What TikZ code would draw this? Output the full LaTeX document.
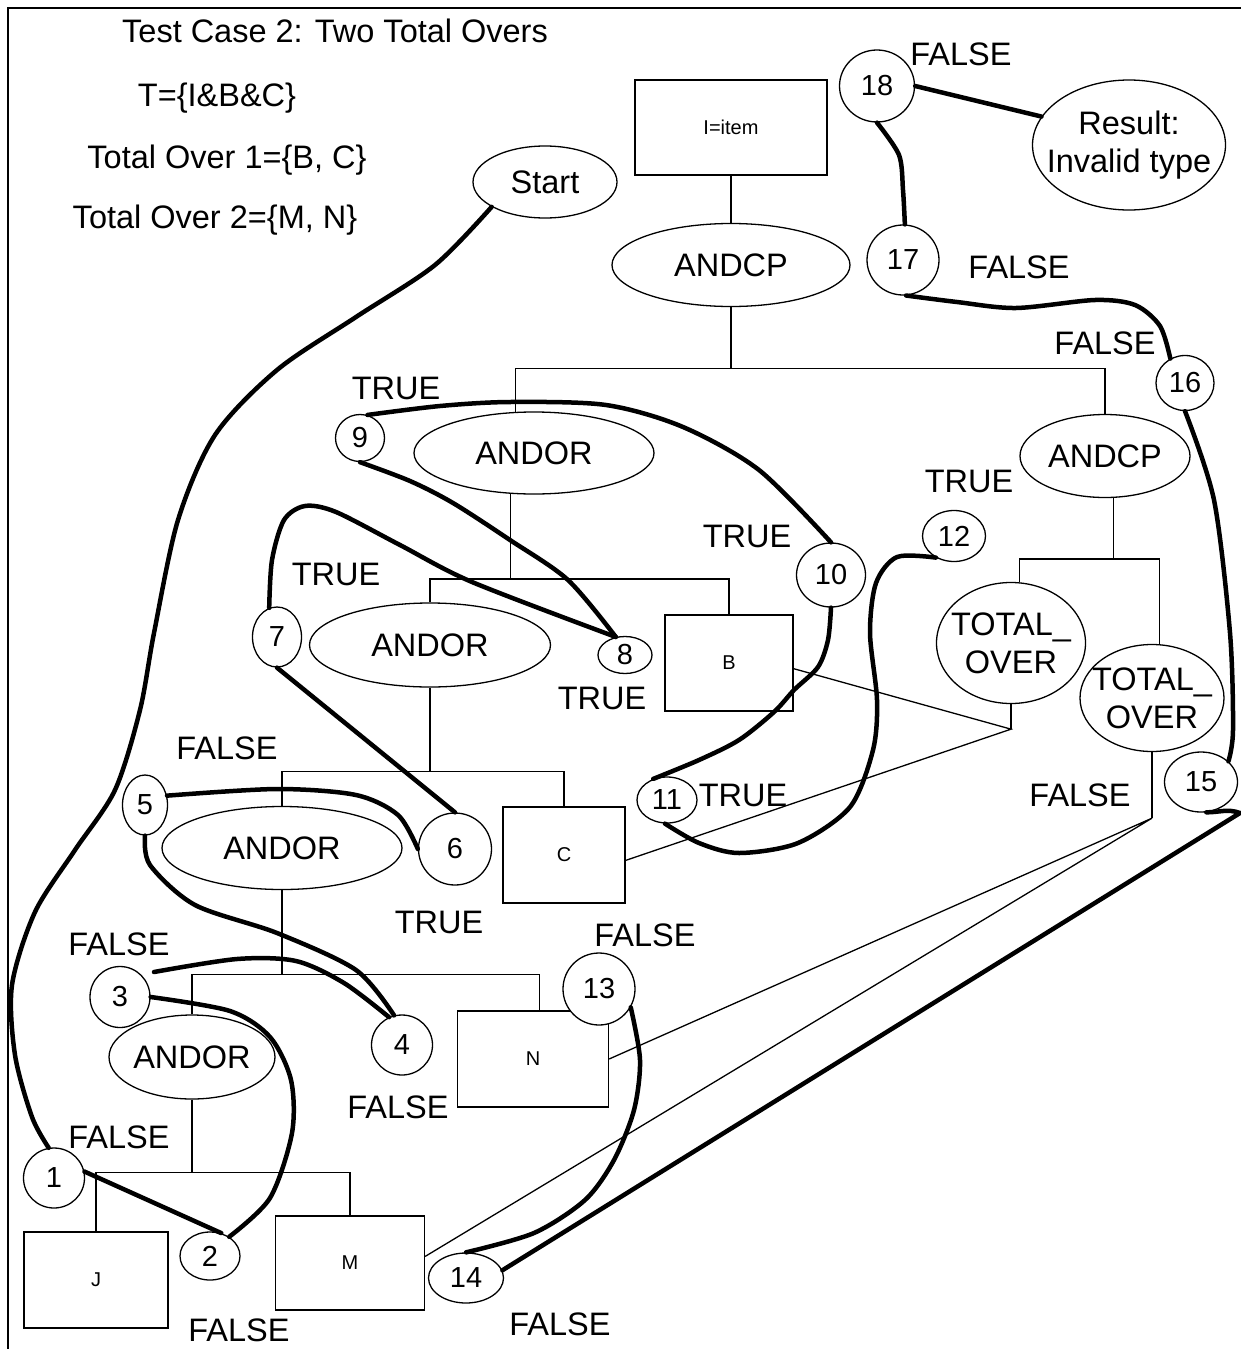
\documentclass[tikz,border=0pt]{standalone}
\usepackage{fontspec}
\setmainfont{Liberation Sans}
\usetikzlibrary{shapes.geometric}

\begin{document}
\begin{tikzpicture}[x=1pt, y=-1pt,
    tree/.style={line width=1.3pt},
    route/.style={line width=4.5pt, line cap=round, line join=round},
    box/.style={draw, line width=1.3pt, fill=white, inner sep=0pt, font=\fontsize{20}{22}\selectfont},
    oval/.style={draw, ellipse, line width=1.3pt, fill=white, inner sep=0pt, font=\fontsize{32.5}{38}\selectfont},
    stepnum/.style={draw, ellipse, line width=1.3pt, fill=white, inner sep=0pt, font=\fontsize{29}{30}\selectfont},
    note/.style={inner sep=0pt, align=center, font=\fontsize{32.5}{38}\selectfont}]

    \useasboundingbox (0,0) rectangle (1241,1349);

    % Frame (top and left edges only)
    \draw[line width=2.5pt] (8,1349) -- (8,8) -- (1241,8);

    % Heading and sets
    \node[note] (title) at (335,31) {Test Case 2: Two Total Overs};
    \node[note] (tset) at (217,98) {T=\{I\&B\&C\}};
    \node[note] (over1) at (227,160) {Total Over 1=\{B, C\}};
    \node[note] (over2) at (215,220) {Total Over 2=\{M, N\}};

    % Start and result
    \node[oval, minimum width=144, minimum height=72] (start) at (545,182) {Start};
    \node[oval, minimum width=193, minimum height=130] (result) at (1129,145) {};
    \node[note] (resulttext) at (result) {Result:\\Invalid type};

    % Tree nodes
    \node[box, minimum width=192, minimum height=95] (item) at (731,127.5) {I=item};
    \node[oval, minimum width=238, minimum height=83] (andcpA) at (731,265) {ANDCP};
    \node[oval, minimum width=240, minimum height=82] (andorA) at (534,453) {ANDOR};
    \node[oval, minimum width=170, minimum height=83] (andcpB) at (1105,456) {ANDCP};
    \node[oval, minimum width=241, minimum height=84] (andorB) at (430,645) {ANDOR};
    \node[oval, minimum width=240, minimum height=83] (andorC) at (282,848) {ANDOR};
    \node[oval, minimum width=158, minimum height=84] (andorD) at (192,1057) {ANDOR};
    \node[oval, minimum width=149, minimum height=121] (totalA) at (1011,643) {};
    \node[note] (totalAtext) at (totalA) {TOTAL\_\\OVER};
    \node[oval, minimum width=144, minimum height=107] (totalB) at (1152,698) {};
    \node[note] (totalBtext) at (totalB) {TOTAL\_\\OVER};
    \node[box, minimum width=128, minimum height=96] (nodeB) at (729,663) {B};
    \node[box, minimum width=122, minimum height=96] (nodeC) at (564,855) {C};
    \node[box, minimum width=151, minimum height=96] (nodeN) at (533,1059) {N};
    \node[box, minimum width=149, minimum height=94] (nodeM) at (350,1263) {M};
    \node[box, minimum width=144, minimum height=96] (nodeJ) at (96,1280) {J};

    % Numbered steps
    \foreach \n/\x/\y/\w/\h in {1/54/1178/61/60, 2/210/1256/60/48, 3/120/997/60/61, 4/402/1045/61/60,
        5/145/805/45/60, 6/455/849/73/72, 7/277/637/49/60, 8/625/655/54/37, 9/360/438/49/47,
        10/831/575/69/64, 11/667/800/60/46, 12/954/536/63/51, 13/599/989/72/72, 14/466/1278/75/50,
        15/1201/782/73/60, 16/1185/383/58/55, 17/903/260/72/70, 18/877/86/75/72}
        \node[stepnum, minimum width=\w, minimum height=\h] (n\n) at (\x,\y) {\n};

    % Outcome labels
    \foreach \i/\x/\y in {9/396/388, 12/969/481, 10/747/536, 7/336/574, 8/602/698, 11/743/795, 6/439/922}
        \node[note] (true\i) at (\x,\y) {TRUE};
    \foreach \i/\x/\y in {18/961/54, 17/1019/267, 16/1105/343, 5/227/748, 15/1080/795, 13/645/935,
        3/119/944, 4/398/1107, 1/119/1137, 2/239/1330, 14/560/1324}
        \node[note] (false\i) at (\x,\y) {FALSE};

    % Tree lines
    \draw[tree] (item.south) -- (andcpA.north);
    \draw[tree] (andcpA.south) -- ++(0,61) coordinate (barA);
    \draw[tree] (andorA.114) |- (barA) -| (andcpB.north);
    \draw[tree] (andorA.240) -- ++(0,85) coordinate (barB);
    \draw[tree] (andorB.north) |- (barB) -| (nodeB.north);
    \draw[tree] (andorB.south) -- ++(0,84) coordinate (barC);
    \draw[tree] (andorC.north) |- (barC) -| (nodeC.north);
    \draw[tree] (andorC.south) -- ++(0,84.5) coordinate (barD);
    \draw[tree] (andorD.north) |- (barD) -| (nodeN.82);
    \draw[tree] (andorD.south) -- ++(0,73) coordinate (barE);
    \draw[tree] (nodeJ.north) |- (barE) -| (nodeM.north);
    \draw[tree] (andcpB.-79) -- ++(0,61) coordinate (barF);
    \draw[tree] (totalA.82) |- (barF) -| (totalB.82);

    % Total over links
    \draw[tree] (totalA.south) -- ++(0,25) coordinate (tailA);
    \draw[tree] (nodeB.-5) -- (tailA) -- (nodeC.-5);
    \draw[tree] (totalB.south) -- ++(0,66) coordinate (tailB);
    \draw[tree] (nodeN.east) -- (tailB) -- (nodeM.5);

    % Route of the test case, step by step
    \draw[route] plot[smooth] coordinates {(start.205) (435,265) (356,317) (277,370) (215,435) (178,520)
        (154,633) (140,710) (115,790) (75,850) (35,912) (12,985) (15,1055) (32,1117) (n1.100)};
    \draw[route] (n1.12) -- (n2.64);
    \draw[route] plot[smooth] coordinates {(n2.45) (270,1198) (292,1133) (291,1080) (270,1037) (230,1011) (n3.east)};
    \coordinate (n3tail) at (154,972);
    \draw[route] plot[smooth] coordinates {(n3tail) (237,959) (296,961) (344,983) (n4.115)};
    \draw[route] plot[smooth] coordinates {(n4.105) (356,970) (277,933) (195,905) (150,865) (n5.south)};
    \draw[route] plot[smooth] coordinates {(n5.23) (277,789) (356,795) (398,815) (n6.west)};
    \draw[route] (n6.north) -- (n7.south);
    \draw[route] plot[smooth] coordinates {(n7.105) (272,560) (284,520) (305,506) (336,512) (400,545) (472,582) (n8.117)};
    \draw[route] plot[smooth] coordinates {(n8.117) (568,580) (510,540) (453,503) (410,481) (n9.south)};
    \draw[route] plot[smooth] coordinates {(n9.72) (440,406) (510,402) (606,405) (683,427) (759,470) (n10.north)};
    \draw[route] plot[smooth] coordinates {(n10.south) (828,640) (818,667) (794,690) (774,712) (739,740)
        (699,760) (n11.123)};
    \draw[route] plot[smooth] coordinates {(n11.265) (699,843) (739,853) (798,843) (850,807) (873,750)
        (877,700) (870,633) (876,583) (897,557) (n12.230)};
    \draw[route] plot[smooth] coordinates {(n13.-30) (640,1060) (634,1110) (614,1160) (585,1200) (534,1233) (n14.north)};
    \coordinate (hook15) at (1240,813);
    \draw[route] (n14.12) -- (hook15) to[out=160, in=0] (n15.-80);
    \draw[route] plot[smooth] coordinates {(n15.37) (1233,730) (1230,633) (1214,500) (n16.south)};
    \draw[route] plot[smooth] coordinates {(n16.121) (1160,326) (1135,305) (1095,300) (1016,308) (957,302) (n17.-85)};
    \draw[route] plot[smooth] coordinates {(n17.87) (903,190) (899,155) (n18.south)};
    \draw[route] (n18.east) -- (result.162);
\end{tikzpicture}
\end{document}
